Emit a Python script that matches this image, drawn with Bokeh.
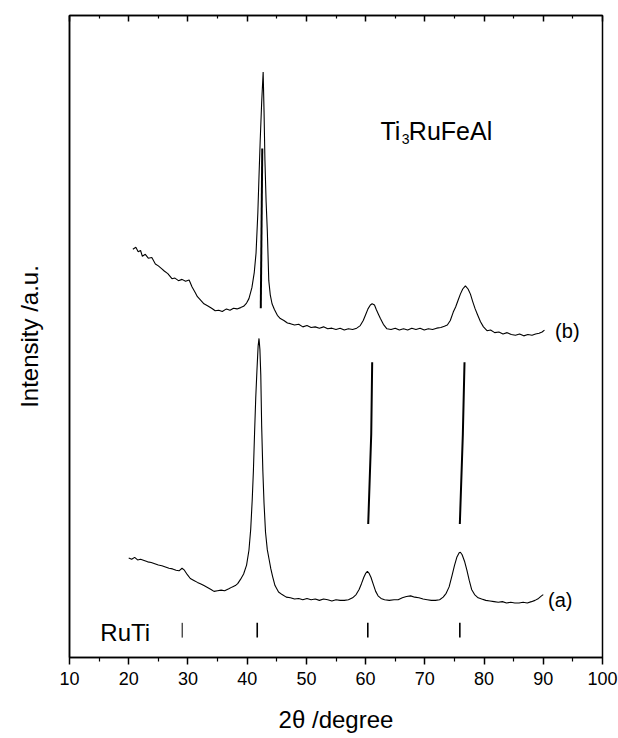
from bokeh.plotting import figure
from bokeh.models import LinearAxis, FixedTicker, Label, Range1d, CustomJSTickFormatter
from bokeh.embed import file_html
from bokeh.resources import INLINE

FONT = "Liberation Sans"

# ---- data (2theta in degrees, intensity in arbitrary units) ----
tt_b = [20.7, 21.2, 21.6, 22.0, 22.3, 22.8, 23.3, 23.9, 24.5, 25.0, 25.5, 26.0, 26.6, 27.3, 27.8,
        28.4, 29.0, 29.6, 30.2, 30.7, 31.2, 31.6, 32.1, 32.7, 33.3, 34.0, 34.6, 35.2, 35.8, 36.5,
        37.1, 37.7, 38.3, 38.9, 39.4, 39.9, 40.3, 40.8, 41.2, 41.5, 41.8, 42.0, 42.2, 42.45, 42.7,
        42.85, 43.0, 43.2, 43.4, 43.65, 43.9, 44.2, 44.6, 45.1, 45.6, 46.2, 46.8, 47.3, 48.0, 48.7,
        49.4, 50.1, 50.8, 51.5, 52.2, 52.9, 53.6, 54.3, 55.0, 55.7, 56.4, 57.1, 57.8, 58.5, 59.1,
        59.6, 60.0, 60.4, 60.8, 61.1, 61.5, 61.8, 62.2, 62.5, 63.0, 63.6, 64.3, 65.0, 65.7, 66.4,
        67.1, 67.8, 68.5, 69.2, 69.9, 70.6, 71.3, 72.0, 72.7, 73.3, 73.8, 74.3, 74.8, 75.2, 75.6,
        76.0, 76.4, 76.85, 77.3, 77.7, 78.1, 78.5, 78.9, 79.4, 79.9, 80.5, 81.1, 81.8, 82.5, 83.2,
        83.9, 84.6, 85.3, 86.0, 86.7, 87.4, 88.1, 88.7, 89.3, 89.8, 90.2]
int_b = [63.6, 63.9, 63.2, 63.4, 62.5, 62.8, 62.2, 62.3, 61.3, 61.0, 60.6, 60.2, 59.8, 59.0, 59.1,
         58.7, 58.9, 58.6, 58.8, 57.7, 56.9, 56.2, 55.7, 55.1, 54.8, 54.4, 54.0, 54.1, 53.9, 54.3,
         54.1, 54.4, 54.3, 54.5, 54.7, 55.2, 55.9, 57.6, 60.0, 63.0, 69.2, 75.0, 80.5, 86.5, 91.2,
         85.0, 77.4, 71.0, 66.5, 58.7, 56.5, 55.1, 54.2, 53.3, 52.8, 52.5, 52.1, 52.0, 51.8, 51.9,
         51.5, 51.7, 51.4, 51.5, 51.3, 51.5, 51.2, 51.3, 51.1, 51.3, 51.0, 51.2, 51.1, 51.3, 51.7,
         52.5, 53.4, 54.3, 54.9, 55.1, 54.9, 54.2, 53.4, 52.8, 51.9, 51.2, 51.1, 51.3, 51.0, 51.2,
         51.0, 51.3, 51.1, 51.3, 51.0, 51.2, 51.1, 51.3, 51.4, 51.6, 51.8, 52.5, 53.8, 54.6, 55.6,
         56.6, 57.4, 57.9, 57.4, 56.6, 55.4, 54.3, 53.4, 52.3, 51.5, 50.9, 51.0, 50.6, 50.7, 50.4,
         50.6, 50.3, 50.2, 50.4, 50.1, 50.3, 50.2, 50.4, 50.5, 50.7, 51.0]

tt_a = [20.0, 20.5, 21.0, 21.5, 22.0, 22.6, 23.2, 23.8, 24.4, 25.0, 25.6, 26.2, 26.8, 27.4, 28.0,
        28.5, 29.0, 29.4, 29.9, 30.4, 31.0, 31.6, 32.1, 32.7, 33.3, 33.9, 34.4, 35.0, 35.6, 36.2,
        36.9, 37.5, 38.0, 38.4, 38.9, 39.4, 39.9, 40.3, 40.6, 40.85, 41.05, 41.25, 41.45, 41.65, 41.85,
        42.0, 42.15, 42.3, 42.45, 42.65, 42.85, 43.1, 43.4, 43.7, 44.0, 44.3, 44.7, 45.3, 45.9, 46.6,
        47.3, 48.0, 48.7, 49.4, 50.1, 50.8, 51.5, 52.2, 52.9, 53.6, 54.3, 55.0, 55.7, 56.4, 57.1,
        57.8, 58.4, 58.9, 59.3, 59.7, 60.0, 60.3, 60.6, 60.9, 61.3, 61.7, 62.1, 62.6, 63.2, 64.0,
        64.8, 65.5, 66.2, 66.9, 67.6, 68.3, 69.0, 69.7, 70.4, 71.1, 71.8, 72.5, 73.1, 73.6, 74.1,
        74.6, 75.0, 75.4, 75.8, 76.0, 76.3, 76.7, 77.1, 77.5, 77.9, 78.4, 79.0, 79.6, 80.3, 81.0,
        81.7, 82.4, 83.1, 83.8, 84.5, 85.2, 85.9, 86.6, 87.3, 88.0, 88.6, 89.2, 89.7, 90.0]
int_a = [15.5, 15.3, 15.6, 15.2, 15.3, 15.1, 14.9, 14.8, 14.6, 14.4, 14.3, 14.1, 13.9, 13.8, 13.6,
         13.5, 13.9, 13.6, 12.9, 12.3, 12.0, 11.7, 11.5, 11.2, 10.9, 10.6, 10.3, 10.4, 10.5, 10.4,
         10.7, 11.0, 11.2, 11.5, 12.2, 13.0, 14.4, 16.7, 20.0, 24.5, 29.0, 35.0, 40.5, 44.7, 48.5,
         49.7, 48.0, 44.0, 36.0, 29.0, 24.0, 19.5, 16.8, 15.3, 13.8, 12.6, 11.2, 10.2, 9.8, 9.4,
         9.3, 9.1, 9.2, 9.0, 9.2, 9.0, 9.1, 8.9, 9.1, 9.0, 8.8, 9.0, 8.9, 8.9, 9.0,
         9.3, 9.8, 10.6, 11.5, 12.5, 13.1, 13.4, 13.1, 12.5, 11.4, 10.3, 9.6, 9.2, 9.0, 8.9,
         9.0, 9.0, 9.3, 9.5, 9.6, 9.4, 9.3, 9.1, 9.0, 8.9, 8.9, 9.0, 9.4, 10.0, 11.0,
         12.8, 14.3, 15.6, 16.3, 16.4, 16.0, 15.0, 13.6, 12.0, 10.6, 9.8, 9.3, 9.1, 8.9, 8.8,
         8.7, 8.6, 8.7, 8.5, 8.6, 8.5, 8.5, 8.6, 8.5, 8.7, 8.9, 9.2, 9.6, 9.8]

# peak-shift guide lines between (a) and (b)
shift_xs = [[42.3, 42.55], [60.44, 60.95, 61.11], [75.91, 76.42, 76.70]]
shift_ys = [[54.4, 79.3], [20.8, 34.8, 46.0], [20.8, 34.8, 46.0]]

# RuTi reference positions
ruti_pos = [29.03, 41.70, 60.37, 75.91]
ruti_lo, ruti_hi = 3.1, 5.4

x_ticks = [10, 20, 30, 40, 50, 60, 70, 80, 90, 100]
x_minor = [15, 25, 35, 45, 55, 65, 75, 85, 95]

p = figure(width=618, height=738, x_range=Range1d(10, 100), y_range=Range1d(0, 100),
           output_backend="svg", toolbar_location=None)
p.min_border_left = 69
p.min_border_right = 16
p.min_border_top = 15
p.min_border_bottom = 81
p.grid.visible = False
p.outline_line_color = "black"
p.outline_line_width = 1.5
p.background_fill_color = "white"
p.border_fill_color = "white"

ax = p.xaxis[0]
ax.ticker = FixedTicker(ticks=x_ticks, minor_ticks=x_minor)
ax.major_tick_in = 0
ax.major_tick_out = 7
ax.minor_tick_in = 0
ax.minor_tick_out = 4
ax.axis_line_width = 1.5
ax.major_tick_line_width = 1.5
ax.minor_tick_line_width = 1.2
ax.major_label_text_font = FONT
ax.major_label_text_font_size = "18px"
ax.major_label_text_color = "black"
ax.major_label_standoff = 7
ax.axis_label = "2θ /degree"
ax.axis_label_text_font = FONT
ax.axis_label_text_font_size = "24px"
ax.axis_label_text_font_style = "normal"
ax.axis_label_text_color = "black"
ax.axis_label_standoff = 18

ay = p.yaxis[0]
ay.ticker = FixedTicker(ticks=[])
ay.major_tick_line_color = None
ay.minor_tick_line_color = None
ay.axis_line_width = 1.5
ay.axis_label = "Intensity /a.u."
ay.axis_label_text_font = FONT
ay.axis_label_text_font_size = "24px"
ay.axis_label_text_font_style = "normal"
ay.axis_label_text_color = "black"
ay.axis_label_standoff = 27

top = LinearAxis(ticker=FixedTicker(ticks=x_ticks, minor_ticks=x_minor),
                 formatter=CustomJSTickFormatter(code="return ''"),
                 major_tick_in=6, major_tick_out=0, minor_tick_in=3, minor_tick_out=0,
                 major_label_standoff=0,
                 axis_line_width=1.5, major_tick_line_width=1.5, minor_tick_line_width=1.2)
p.add_layout(top, "above")

p.line(tt_b, int_b, line_color="black", line_width=1.1)
p.line(tt_a, int_a, line_color="black", line_width=1.1)
p.multi_line(shift_xs, shift_ys, line_color="black", line_width=2)
p.segment(x0=ruti_pos, y0=[ruti_lo] * 4, x1=ruti_pos, y1=[ruti_hi] * 4,
          line_color="black", line_width=[1, 1.6, 1.6, 1.6])

def lab(x, y, text, size, baseline="middle"):
    p.add_layout(Label(x=x, y=y, text=text, text_font=FONT, text_font_size=size,
                       text_color="black", text_align="left", text_baseline=baseline))

lab(62.5, 82.0, "Ti", "25px", "alphabetic")
lab(66.1, 80.8, "3", "14px", "alphabetic")
lab(67.3, 82.0, "RuFeAl", "25px", "alphabetic")
lab(92.0, 50.8, "(b)", "20px")
lab(90.8, 9.0, "(a)", "20px")
lab(15.2, 3.9, "RuTi", "24px")

open("out.html", "w").write(file_html(p, INLINE))
